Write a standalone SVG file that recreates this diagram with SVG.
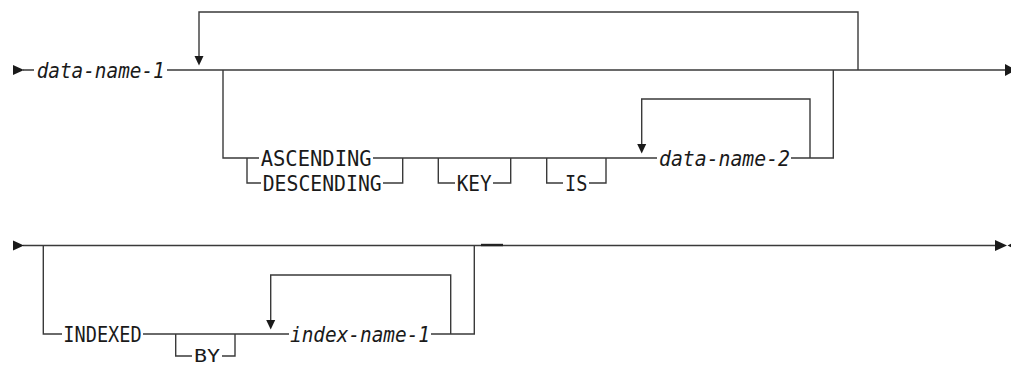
<svg xmlns="http://www.w3.org/2000/svg" width="1011" height="367" viewBox="0 0 1011 367">
<style>
.ln{fill:none;stroke:#3a3a3a;stroke-width:1.4}
.ar{fill:#1a1a1a;stroke:none}
.kw{font-family:"DejaVu Sans Mono","Liberation Mono",monospace;font-size:21.5px;fill:#1a1a1a}
.var{font-family:"DejaVu Sans Mono","Liberation Mono",monospace;font-size:21.5px;font-style:italic;fill:#1a1a1a}
</style>
<rect width="1011" height="367" fill="#fff"/>
<g id="connectors">
<path class="ln" d="M23,70 H34 M167,70 H1005"/>
<path class="ln" d="M199,57 V12 H858 V70"/>
<path class="ln" d="M223,70 V158 H259 M247,158 V183 H261 M373,158 H657 M383,183 H402.7 V158"/>
<path class="ln" d="M438.3,158 V183 H455 M493,183 H510.7 V158"/>
<path class="ln" d="M546.7,158 V183 H563 M589,183 H606 V158"/>
<path class="ln" d="M641.7,145 V99 H810 V158"/>
<path class="ln" d="M791,158 H833.3 V70"/>
<path class="ln" d="M23,245.5 H995"/>
<path class="ln" d="M481,245 H503" style="stroke-width:2.4;stroke:#222"/>
<path class="ln" d="M43.3,245.5 V334 H62 M143,334 H289"/>
<path class="ln" d="M175.7,334 V356 H192 M222,356 H235 V334"/>
<path class="ln" d="M270.7,321 V275 H450.7 V334"/>
<path class="ln" d="M431,334 H474.3 V245.5"/>
<polygon class="ar" points="13,65 24,70 13,75"/>
<polygon class="ar" points="1005,64 1016,70 1005,76"/>
<polygon class="ar" points="194.5,56 203.5,56 199,65.5"/>
<polygon class="ar" points="637.2,144 646.2,144 641.7,153.5"/>
<polygon class="ar" points="13,240.5 24,245.5 13,250.5"/>
<polygon class="ar" points="995,240 1007,245.5 995,251"/>
<polygon class="ar" points="1019,240 1007.5,245.5 1019,251"/>
<polygon class="ar" points="266.2,320 275.2,320 270.7,329.5"/>
</g>
<g id="data-name-1"><text class="var" x="36.7" y="77.5" textLength="128" lengthAdjust="spacingAndGlyphs">data-name-1</text></g>
<g id="ascending"><text class="kw" x="260.7" y="165.5" textLength="111" lengthAdjust="spacingAndGlyphs">ASCENDING</text></g>
<g id="descending"><text class="kw" x="262.7" y="190.5" textLength="119" lengthAdjust="spacingAndGlyphs">DESCENDING</text></g>
<g id="key"><text class="kw" x="456.7" y="190.5" textLength="35" lengthAdjust="spacingAndGlyphs">KEY</text></g>
<g id="is"><text class="kw" x="565" y="190.5" textLength="22.3" lengthAdjust="spacingAndGlyphs">IS</text></g>
<g id="data-name-2"><text class="var" x="659" y="165.5" textLength="131" lengthAdjust="spacingAndGlyphs">data-name-2</text></g>
<g id="indexed"><text class="kw" x="63.3" y="341.5" textLength="78.4" lengthAdjust="spacingAndGlyphs">INDEXED</text></g>
<g id="by"><text class="kw" x="194" y="362" style="font-size:18px" textLength="26" lengthAdjust="spacingAndGlyphs">BY</text></g>
<g id="index-name-1"><text class="var" x="290" y="341.5" textLength="140" lengthAdjust="spacingAndGlyphs">index-name-1</text></g>
</svg>
